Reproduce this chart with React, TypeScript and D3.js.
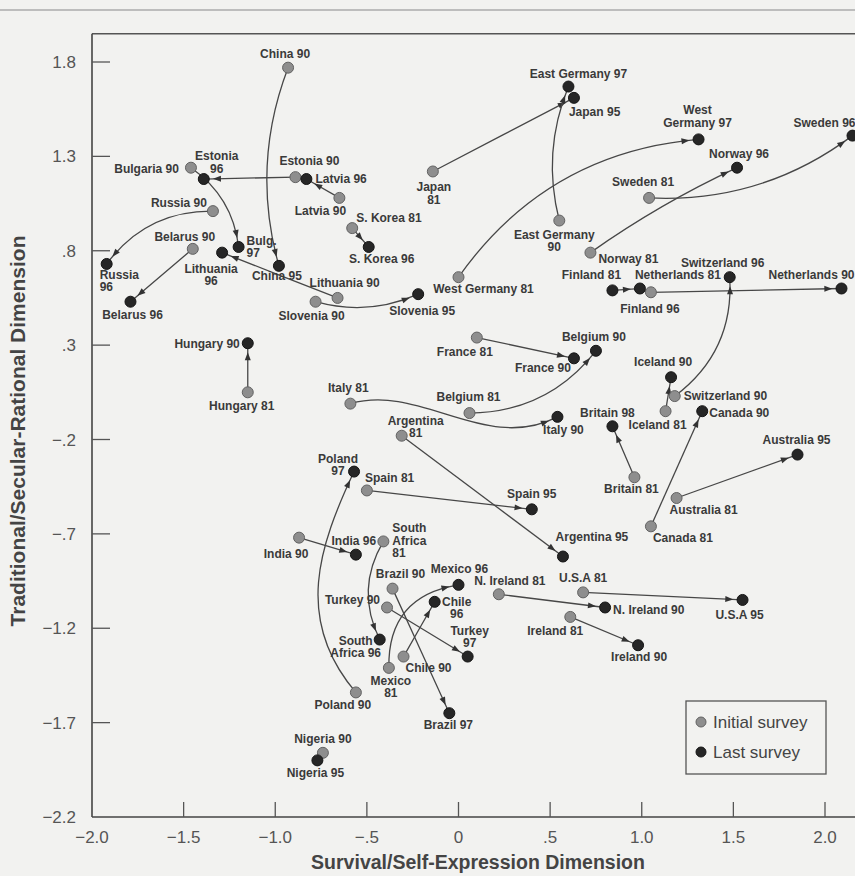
import React from 'react';
import * as d3 from 'd3';

// survey positions: [name, survival/self-expression, traditional/secular-rational]
const initialSurvey: [string, number, number][] = [
  ['China 90', -0.93, 1.77],
  ['Bulgaria 90', -1.46, 1.24],
  ['Estonia 90', -0.89, 1.19],
  ['Latvia 90', -0.65, 1.08],
  ['Russia 90', -1.34, 1.01],
  ['S. Korea 81', -0.58, 0.92],
  ['Belarus 90', -1.45, 0.81],
  ['Lithuania 90', -0.66, 0.55],
  ['Slovenia 90', -0.78, 0.53],
  ['Hungary 81', -1.15, 0.05],
  ['Italy 81', -0.59, -0.01],
  ['Argentina 81', -0.31, -0.18],
  ['Poland 90', -0.56, -1.54],
  ['Spain 81', -0.5, -0.47],
  ['India 90', -0.87, -0.72],
  ['South Africa 81', -0.41, -0.74],
  ['Brazil 90', -0.36, -0.99],
  ['Turkey 90', -0.39, -1.09],
  ['Chile 90', -0.3, -1.35],
  ['Mexico 81', -0.38, -1.41],
  ['Nigeria 90', -0.74, -1.86],
  ['Japan 81', -0.14, 1.22],
  ['East Germany 90', 0.55, 0.96],
  ['West Germany 81', 0.0, 0.66],
  ['Sweden 81', 1.04, 1.08],
  ['Norway 81', 0.72, 0.79],
  ['Netherlands 81', 1.05, 0.58],
  ['Switzerland 90', 1.18, 0.03],
  ['France 81', 0.1, 0.34],
  ['Belgium 81', 0.06, -0.06],
  ['Iceland 81', 1.13, -0.05],
  ['Britain 81', 0.96, -0.4],
  ['Canada 81', 1.05, -0.66],
  ['Australia 81', 1.19, -0.51],
  ['N. Ireland 81', 0.22, -1.02],
  ['Ireland 81', 0.61, -1.14],
  ['U.S.A 81', 0.68, -1.01],
];

const lastSurvey: [string, number, number][] = [
  ['China 95', -0.98, 0.72],
  ['Bulgaria 97', -1.2, 0.82],
  ['Estonia 96', -1.39, 1.18],
  ['Latvia 96', -0.83, 1.18],
  ['Russia 96', -1.92, 0.73],
  ['S. Korea 96', -0.49, 0.82],
  ['Belarus 96', -1.79, 0.53],
  ['Lithuania 96', -1.29, 0.79],
  ['Slovenia 95', -0.22, 0.57],
  ['Hungary 90', -1.15, 0.31],
  ['Italy 90', 0.54, -0.08],
  ['Argentina 95', 0.57, -0.82],
  ['Poland 97', -0.57, -0.37],
  ['Spain 95', 0.4, -0.57],
  ['India 96', -0.56, -0.81],
  ['South Africa 96', -0.43, -1.26],
  ['Brazil 97', -0.05, -1.65],
  ['Turkey 97', 0.05, -1.35],
  ['Chile 96', -0.13, -1.06],
  ['Mexico 96', 0.0, -0.97],
  ['Nigeria 95', -0.77, -1.9],
  ['Japan 95', 0.63, 1.61],
  ['East Germany 97', 0.6, 1.67],
  ['West Germany 97', 1.31, 1.39],
  ['Sweden 96', 2.15, 1.41],
  ['Norway 96', 1.52, 1.24],
  ['Finland 81', 0.84, 0.59], // printed dark in the source
  ['Finland 96', 0.99, 0.6],
  ['Netherlands 90', 2.09, 0.6],
  ['Switzerland 96', 1.48, 0.66],
  ['France 90', 0.63, 0.23],
  ['Belgium 90', 0.75, 0.27],
  ['Iceland 90', 1.16, 0.13],
  ['Britain 98', 0.84, -0.13],
  ['Canada 90', 1.33, -0.05],
  ['Australia 95', 1.85, -0.28],
  ['N. Ireland 90', 0.8, -1.09],
  ['Ireland 90', 0.98, -1.29],
  ['U.S.A 95', 1.55, -1.05],
];

const moves: [string, string][] = [
  ['China 90', 'China 95'],
  ['Bulgaria 90', 'Bulgaria 97'],
  ['Estonia 90', 'Estonia 96'],
  ['Latvia 90', 'Latvia 96'],
  ['Russia 90', 'Russia 96'],
  ['S. Korea 81', 'S. Korea 96'],
  ['Belarus 90', 'Belarus 96'],
  ['Lithuania 90', 'Lithuania 96'],
  ['Slovenia 90', 'Slovenia 95'],
  ['Hungary 81', 'Hungary 90'],
  ['Italy 81', 'Italy 90'],
  ['Argentina 81', 'Argentina 95'],
  ['Poland 90', 'Poland 97'],
  ['Spain 81', 'Spain 95'],
  ['India 90', 'India 96'],
  ['South Africa 81', 'South Africa 96'],
  ['Brazil 90', 'Brazil 97'],
  ['Turkey 90', 'Turkey 97'],
  ['Chile 90', 'Chile 96'],
  ['Mexico 81', 'Mexico 96'],
  ['Japan 81', 'Japan 95'],
  ['East Germany 90', 'East Germany 97'],
  ['West Germany 81', 'West Germany 97'],
  ['Sweden 81', 'Sweden 96'],
  ['Norway 81', 'Norway 96'],
  ['Finland 81', 'Finland 96'],
  ['Netherlands 81', 'Netherlands 90'],
  ['Switzerland 90', 'Switzerland 96'],
  ['France 81', 'France 90'],
  ['Belgium 81', 'Belgium 90'],
  ['Iceland 81', 'Iceland 90'],
  ['Britain 81', 'Britain 98'],
  ['Canada 81', 'Canada 90'],
  ['Australia 81', 'Australia 95'],
  ['N. Ireland 81', 'N. Ireland 90'],
  ['Ireland 81', 'Ireland 90'],
  ['U.S.A 81', 'U.S.A 95'],
];

const xTicks = [-2, -1.5, -1, -0.5, 0, 0.5, 1, 1.5, 2];
const yTicks = [1.8, 1.3, 0.8, 0.3, -0.2, -0.7, -1.2, -1.7, -2.2];
const legendItems = ['Initial survey', 'Last survey'];

// --- layout / style only below ---

// bend of the arrow as fraction of its length, [near start, near end]
const bends: Record<string, [number, number]> = {
  'China 90': [0.11, 0.11],
  'Russia 90': [0.17, 0.17],
  'Bulgaria 90': [-0.15, -0.15],
  'Slovenia 90': [0.12, 0.12],
  'East Germany 90': [-0.11, -0.11],
  'West Germany 81': [-0.155, -0.155],
  'Sweden 81': [0.12, 0.12],
  'Switzerland 90': [0.18, 0.18],
  'Belgium 81': [0.16, 0.16],
  'Italy 81': [-0.12, 0.2],
  'Poland 90': [-0.28, -0.16],
  'South Africa 81': [0.18, 0.18],
  'Mexico 81': [-0.29, -0.29],
  'Norway 81': [-0.03, -0.03],
};

// label offset from its dot: [dx, dy, anchor, text with | as line break]
const labelAt: Record<string, [number, number, string, string?]> = {
  'China 90': [-3, -10, 'middle'],
  'China 95': [-2, 14, 'middle'],
  'Bulgaria 90': [-12, 5, 'end'],
  'Bulgaria 97': [8, -2, 'start', 'Bulg.|97'],
  'Estonia 90': [14, -12, 'middle'],
  'Estonia 96': [13, -19, 'middle', 'Estonia|96'],
  'Latvia 90': [-19, 17, 'middle'],
  'Latvia 96': [9, 4, 'start'],
  'Russia 90': [-6, -4, 'end'],
  'Russia 96': [-7, 15, 'start', 'Russia|96'],
  'S. Korea 81': [4, -6, 'start'],
  'S. Korea 96': [13, 16, 'middle'],
  'Belarus 90': [-8, -8, 'middle'],
  'Belarus 96': [2, 17, 'middle'],
  'Lithuania 90': [7, -11, 'middle'],
  'Lithuania 96': [-11, 20, 'middle', 'Lithuania|96'],
  'Slovenia 90': [-4, 18, 'middle'],
  'Slovenia 95': [4, 21, 'middle'],
  'Hungary 81': [-6, 18, 'middle'],
  'Hungary 90': [-8, 5, 'end'],
  'Italy 81': [-2, -12, 'middle'],
  'Italy 90': [6, 17, 'middle'],
  'Argentina 81': [14, -11, 'middle', 'Argentina|81'],
  'Argentina 95': [29, -16, 'middle'],
  'Poland 90': [-13, 17, 'middle'],
  'Poland 97': [-16, -9, 'middle', 'Poland|97'],
  'Spain 81': [-2, -8, 'start'],
  'Spain 95': [0, -11, 'middle'],
  'India 90': [-13, 20, 'middle'],
  'India 96': [-2, -10, 'middle'],
  'South Africa 81': [9, -9, 'start', 'South|Africa|81'],
  'South Africa 96': [-24, 5, 'middle', 'South|Africa 96'],
  'Brazil 90': [8, -11, 'middle'],
  'Brazil 97': [-1, 16, 'middle'],
  'Turkey 90': [-7, -3, 'end'],
  'Turkey 97': [2, -22, 'middle', 'Turkey|97'],
  'Chile 90': [2, 15, 'start'],
  'Chile 96': [22, 4, 'middle', 'Chile|96'],
  'Mexico 81': [2, 17, 'middle', 'Mexico|81'],
  'Mexico 96': [1, -12, 'middle'],
  'Nigeria 90': [0, -10, 'middle'],
  'Nigeria 95': [-2, 17, 'middle'],
  'Japan 81': [1, 20, 'middle', 'Japan|81'],
  'Japan 95': [-5, 18, 'start'],
  'East Germany 90': [-5, 18, 'middle', 'East Germany|90'],
  'East Germany 97': [10, -9, 'middle'],
  'West Germany 81': [25, 16, 'middle'],
  'West Germany 97': [-1, -25, 'middle', 'West|Germany 97'],
  'Sweden 81': [-6, -12, 'middle'],
  'Sweden 96': [-59, -9, 'start'],
  'Norway 81': [8, 10, 'start'],
  'Norway 96': [2, -10, 'middle'],
  'Finland 81': [-21, -11, 'middle'],
  'Finland 96': [10, 24, 'middle'],
  'Netherlands 81': [27, -13, 'middle'],
  'Netherlands 90': [-73, -10, 'start'],
  'Switzerland 90': [9, 4, 'start'],
  'Switzerland 96': [-7, -10, 'middle'],
  'France 81': [-12, 18, 'middle'],
  'France 90': [-31, 14, 'middle'],
  'Belgium 81': [-1, -12, 'middle'],
  'Belgium 90': [-2, -10, 'middle'],
  'Iceland 81': [-8, 18, 'middle'],
  'Iceland 90': [-8, -11, 'middle'],
  'Britain 81': [-3, 16, 'middle'],
  'Britain 98': [-5, -9, 'middle'],
  'Canada 81': [32, 16, 'middle'],
  'Canada 90': [7, 6, 'start'],
  'Australia 81': [27, 16, 'middle'],
  'Australia 95': [-1, -11, 'middle'],
  'N. Ireland 81': [11, -9, 'middle'],
  'N. Ireland 90': [8, 7, 'start'],
  'Ireland 81': [-15, 18, 'middle'],
  'Ireland 90': [1, 16, 'middle'],
  'U.S.A 81': [0, -10, 'middle'],
  'U.S.A 95': [-3, 19, 'middle'],
};

const W = 855;
const H = 876;
const FONT = '"Liberation Sans", Arial, Helvetica, sans-serif';
const INK = '#3a3a3a';

const fmtTick = (v: number) => {
  let s = v === 0 ? '0' : v.toFixed(1);
  if (Math.abs(v) < 1 && v !== 0) s = s.replace('0.', '.');
  return s.replace('-', '\u2212');
};

type Pt = [number, number];

function bezier(p0: Pt, c1: Pt, c2: Pt, p3: Pt, t: number): Pt {
  const u = 1 - t;
  const a = u * u * u, b = 3 * u * u * t, c = 3 * u * t * t, d = t * t * t;
  return [a * p0[0] + b * c1[0] + c * c2[0] + d * p3[0], a * p0[1] + b * c1[1] + c * c2[1] + d * p3[1]];
}

export default function App() {
  const x = d3.scaleLinear().domain([-2, 2]).range([92, 825]);
  const y = d3.scaleLinear().domain([-2.2, 1.8]).range([817, 62]);
  const left = x(-2);
  const bottom = y(-2.2);
  const top = y(1.95);

  const pos = new Map<string, Pt>();
  initialSurvey.forEach(([n, a, b]) => pos.set(n, [x(a), y(b)]));
  lastSurvey.forEach(([n, a, b]) => pos.set(n, [x(a), y(b)]));

  const arrows = moves.map(([from, to]) => {
    const p0 = pos.get(from)!;
    const p3 = pos.get(to)!;
    const dx = p3[0] - p0[0], dy = p3[1] - p0[1];
    const len = Math.hypot(dx, dy);
    const nx = -dy / len, ny = dx / len;
    const [b1, b2] = bends[from] ?? [0, 0];
    const c1: Pt = [p0[0] + dx / 3 + nx * b1 * len, p0[1] + dy / 3 + ny * b1 * len];
    const c2: Pt = [p0[0] + (2 * dx) / 3 + nx * b2 * len, p0[1] + (2 * dy) / 3 + ny * b2 * len];
    const path = d3.path();
    path.moveTo(p0[0], p0[1]);
    path.bezierCurveTo(c1[0], c1[1], c2[0], c2[1], p3[0], p3[1]);
    // arrow tip sits a little outside the end dot
    let t = 1;
    let tip = p3;
    while (t > 0 && Math.hypot(tip[0] - p3[0], tip[1] - p3[1]) < 9) {
      t -= 0.002;
      tip = bezier(p0, c1, c2, p3, t);
    }
    const back = bezier(p0, c1, c2, p3, Math.max(0, t - 0.02));
    let ux = tip[0] - back[0], uy = tip[1] - back[1];
    const ul = Math.hypot(ux, uy) || 1;
    ux /= ul; uy /= ul;
    const bx = tip[0] - ux * 8, by = tip[1] - uy * 8;
    const head = `M${tip[0]},${tip[1]}L${bx - uy * 3},${by + ux * 3}L${bx + uy * 3},${by - ux * 3}Z`;
    return { key: from, d: path.toString(), head };
  });

  const labels = [...initialSurvey, ...lastSurvey].map(([n]) => {
    const p = pos.get(n)!;
    const [dx, dy, anchor, txt] = labelAt[n] ?? [0, -10, 'middle'];
    const lines = (txt ?? n).split('|');
    return { n, x: p[0] + dx, y: p[1] + dy, anchor, lines };
  });

  return (
    <svg width={W} height={H} style={{ position: 'absolute', left: 0, top: 0, background: '#f2f2f0' }}>
      <rect width={W} height={H} fill="#f2f2f0" />
      <line x1={0} x2={W} y1={10} y2={10} stroke="#bdbdbd" strokeWidth={2} />

      {/* frame */}
      <line x1={left} x2={W} y1={top} y2={top} stroke="#555" strokeWidth={1.5} />
      <line x1={left} x2={left} y1={top} y2={bottom} stroke="#444" strokeWidth={1.6} />
      <line x1={left} x2={W} y1={bottom} y2={bottom} stroke="#444" strokeWidth={1.6} />

      {yTicks.map((v) => (
        <g key={'y' + v}>
          {v !== -2.2 && <line x1={left} x2={left + 18} y1={y(v)} y2={y(v)} stroke="#555" strokeWidth={1.3} />}
          <text x={76} y={y(v) + 6} textAnchor="end" fontFamily={FONT} fontSize={17} fill="#555">
            {fmtTick(v)}
          </text>
        </g>
      ))}
      {xTicks.map((v) => (
        <g key={'x' + v}>
          {v !== -2 && <line x1={x(v)} x2={x(v)} y1={bottom} y2={bottom - 15} stroke="#555" strokeWidth={1.3} />}
          <text x={x(v)} y={843} textAnchor="middle" fontFamily={FONT} fontSize={17} fill="#555">
            {fmtTick(v)}
          </text>
        </g>
      ))}

      <text x={478} y={869} textAnchor="middle" fontFamily={FONT} fontSize={19.5} fontWeight="bold" fill="#444">
        Survival/Self-Expression Dimension
      </text>
      <text
        transform={`translate(25,431) rotate(-90)`}
        textAnchor="middle"
        fontFamily={FONT}
        fontSize={21}
        fontWeight="bold"
        fill="#444"
      >
        Traditional/Secular-Rational Dimension
      </text>

      {arrows.map((a) => (
        <g key={a.key}>
          <path d={a.d} fill="none" stroke="#474747" strokeWidth={1.3} />
          <path d={a.head} fill="#333" />
        </g>
      ))}

      {initialSurvey.map(([n, a, b]) => (
        <circle key={n} cx={x(a)} cy={y(b)} r={5.5} fill="#8e8e8e" stroke="#626262" strokeWidth={1} />
      ))}
      {lastSurvey.map(([n, a, b]) => (
        <circle key={n} cx={x(a)} cy={y(b)} r={5.5} fill="#262626" stroke="#151515" strokeWidth={1} />
      ))}

      {labels.map((l) => (
        <text key={l.n} x={l.x} y={l.y} textAnchor={l.anchor as any} fontFamily={FONT} fontSize={12} fontWeight="bold" fill={INK}>
          {l.lines.map((s, i) => (
            <tspan key={i} x={l.x} dy={i === 0 ? 0 : 12.5}>
              {s}
            </tspan>
          ))}
        </text>
      ))}

      {/* legend */}
      <rect x={686} y={701} width={140} height={73} fill="none" stroke="#555" strokeWidth={1.3} />
      {legendItems.map((s, i) => (
        <g key={s}>
          <circle
            cx={701}
            cy={722 + i * 30}
            r={5}
            fill={i === 0 ? '#8e8e8e' : '#262626'}
            stroke={i === 0 ? '#626262' : '#151515'}
          />
          <text x={713} y={728 + i * 30} fontFamily={FONT} fontSize={17} fill="#444">
            {s}
          </text>
        </g>
      ))}
    </svg>
  );
}
